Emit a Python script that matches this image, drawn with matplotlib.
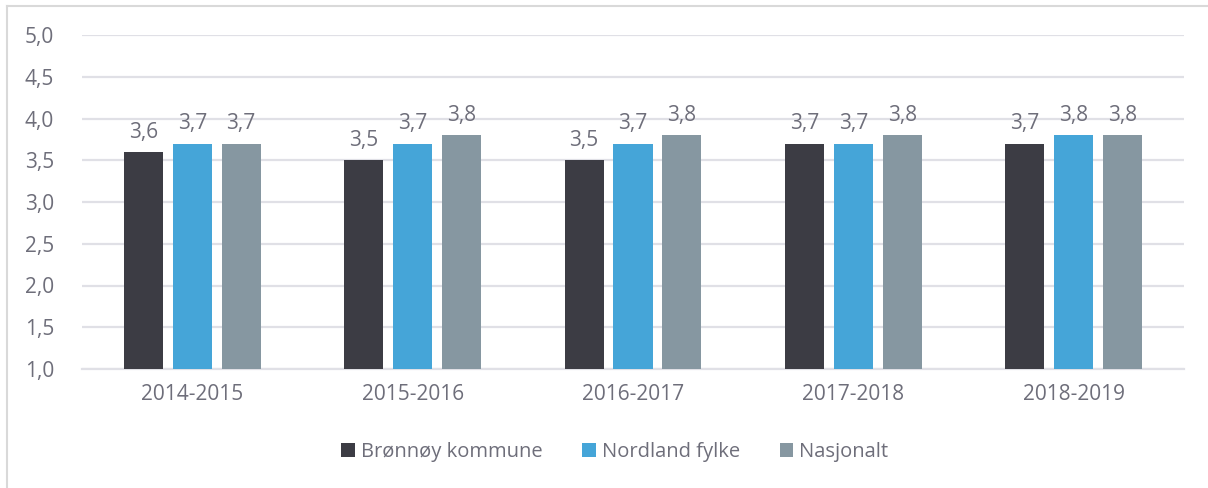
import matplotlib
matplotlib.use("Agg")
import matplotlib.pyplot as plt
from matplotlib.lines import Line2D
import numpy as np

categories = ["2014-2015", "2015-2016", "2016-2017", "2017-2018", "2018-2019"]
series_names = ["Brønnøy kommune", "Nordland fylke", "Nasjonalt"]
bronnoy = [3.6, 3.5, 3.5, 3.7, 3.7]
nordland = [3.7, 3.7, 3.7, 3.7, 3.8]
nasjonalt = [3.7, 3.8, 3.8, 3.8, 3.8]
yticks = [1.0, 1.5, 2.0, 2.5, 3.0, 3.5, 4.0, 4.5, 5.0]

colors = ["#3C3C44", "#45A5D8", "#8697A1"]
text_color = "#6E6E7A"
grid_color = "#E0E0E6"
fs = 15

plt.rcParams['font.family'] = ['Open Sans', 'DejaVu Sans']

W, H = 1208, 488
fig = plt.figure(figsize=(W / 100, H / 100), dpi=100)
ax = fig.add_axes([82 / W, 1 - 369 / H, (1184 - 82) / W, (369 - 35) / H])

x = np.arange(len(categories))
bw = 0.177
off = 0.222
for i, (vals, c) in enumerate(zip([bronnoy, nordland, nasjonalt], colors)):
    pos = x + (i - 1) * off
    ax.bar(pos, np.array(vals) - 1.0, bottom=1.0, width=bw, color=c,
           zorder=3, label=series_names[i])
    for p, v in zip(pos, vals):
        ax.text(p, v + 0.11, f"{v:.1f}".replace(".", ","), ha="center",
                va="bottom", fontsize=fs, color=text_color)

ax.set_xlim(-0.5, len(categories) - 0.5)
ax.set_ylim(1.0, 5.0)
ax.set_yticks(yticks)
ax.set_yticklabels([f"{t:.1f}".replace(".", ",") for t in yticks])
ax.set_xticks(x)
ax.set_xticklabels(categories)
ax.tick_params(axis="both", length=0, labelsize=fs, labelcolor=text_color)
ax.tick_params(axis="y", pad=20)
ax.tick_params(axis="x", pad=11)
ax.grid(axis="y", color=grid_color, linewidth=1.6, zorder=0)
for s in ["top", "right", "left"]:
    ax.spines[s].set_visible(False)
ax.spines["bottom"].set_color(grid_color)
ax.spines["bottom"].set_linewidth(1.6)

leg = fig.legend(loc="center", bbox_to_anchor=(0.509, 1 - 452 / H), ncol=3,
                 frameon=False, fontsize=14.5, handlelength=0.65, handleheight=0.65,
                 handletextpad=0.3, columnspacing=2.0)
for t in leg.get_texts():
    t.set_color(text_color)

# chart border (left and top)
fig.add_artist(Line2D([7 / W, 7 / W], [0, 1 - 6 / H], transform=fig.transFigure,
                      color="#D9D9D9", linewidth=1.5))
fig.add_artist(Line2D([7 / W, 1], [1 - 6 / H, 1 - 6 / H], transform=fig.transFigure,
                      color="#D9D9D9", linewidth=1.5))

fig.savefig("out.png", dpi=100)
